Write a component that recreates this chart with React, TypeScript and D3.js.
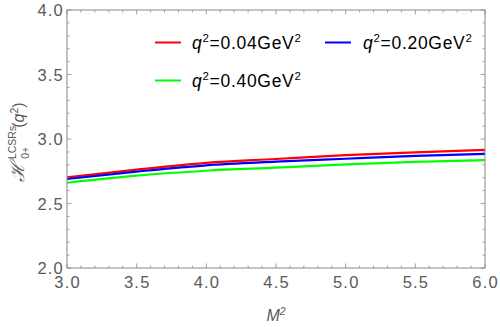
import React from "react";
import * as d3 from "d3";

const M2 = [3.0, 3.5, 4.0, 4.5, 5.0, 5.5, 6.0];
const red = [2.703, 2.763, 2.815, 2.845, 2.875, 2.897, 2.915];
const blue = [2.69, 2.747, 2.796, 2.824, 2.847, 2.869, 2.884];
const green = [2.661, 2.716, 2.754, 2.778, 2.803, 2.823, 2.837];
const seriesNames = ["0.04", "0.20", "0.40"];
const colors = ["#ff0000", "#0000ff", "#00ff00"];
const xTicks = [3.0, 3.5, 4.0, 4.5, 5.0, 5.5, 6.0];
const yTicks = [2.0, 2.5, 3.0, 3.5, 4.0];

export default function App() {
  const W = 500, H = 327;
  const L = 67, R = 485, T = 10, B = 268;
  const x = d3.scaleLinear().domain([3, 6]).range([L, R]);
  const y = d3.scaleLinear().domain([2, 4]).range([B, T]);
  const line = d3
    .line<number>()
    .x((_, i) => x(M2[i]))
    .y((d) => y(d))
    .curve(d3.curveMonotoneX);
  const series = [red, blue, green];
  const frameColor = "#8a8a8a";
  const textColor = "#5a5a5a";
  const font = "'Liberation Sans', Arial, sans-serif";
  const xMinor = d3.range(30, 61).map((v) => v / 10);
  const yMinor = d3.range(20, 41).map((v) => v / 10);
  const isMajor = (v: number) => Math.abs(v * 2 - Math.round(v * 2)) < 1e-6;

  const legend = [
    { i: 0, lx: 155, ly: 42.5, tx: 192 },
    { i: 1, lx: 325, ly: 42.5, tx: 363 },
    { i: 2, lx: 155, ly: 80.5, tx: 192 },
  ];

  return (
    <svg width={W} height={H} style={{ position: "absolute", left: 0, top: 0 }}>
      <rect width={W} height={H} fill="white" />
      {series.map((s, i) => (
        <path key={i} d={line(s) || ""} fill="none" stroke={colors[i]} strokeWidth={2.2} />
      ))}
      <rect x={L} y={T} width={R - L} height={B - T} fill="none" stroke={frameColor} strokeWidth={1} />
      {xMinor.map((v, k) => {
        const len = isMajor(v) ? 4.5 : 2.5;
        return (
          <g key={"x" + k} stroke={frameColor} strokeWidth={0.8}>
            <line x1={x(v)} x2={x(v)} y1={B} y2={B - len} />
            <line x1={x(v)} x2={x(v)} y1={T} y2={T + len} />
          </g>
        );
      })}
      {yMinor.map((v, k) => {
        const len = isMajor(v) ? 4.5 : 2.5;
        return (
          <g key={"y" + k} stroke={frameColor} strokeWidth={0.8}>
            <line x1={L} x2={L + len} y1={y(v)} y2={y(v)} />
            <line x1={R} x2={R - len} y1={y(v)} y2={y(v)} />
          </g>
        );
      })}
      {xTicks.map((v) => (
        <text key={"xt" + v} x={x(v) + 0.6} y={287.5} textAnchor="middle" fontFamily={font} fontSize={16.5} letterSpacing={1.2} fill={textColor}>
          {v.toFixed(1)}
        </text>
      ))}
      {yTicks.map((v) => (
        <text key={"yt" + v} x={64} y={y(v) + 6} textAnchor="end" fontFamily={font} fontSize={16.5} letterSpacing={1.2} fill={textColor}>
          {v.toFixed(1)}
        </text>
      ))}
      <text x={276} y={321} textAnchor="middle" fontFamily={font} fontSize={16} fill={textColor} fontStyle="italic">
        M<tspan dy={-6} fontSize={10.5}>2</tspan>
      </text>
      <g transform="translate(24,142) rotate(-90)">
        <text textAnchor="middle" fontFamily={font} fontSize={16} fill={textColor}>
          <tspan fontFamily="'DejaVu Serif', serif" fontStyle="italic" fontSize={19}>ℋ</tspan>
          <tspan fontSize={10.5} dx={2.5} dy={-8}>LCSRs</tspan>
          <tspan fontSize={10.5} dx={-33} dy={13}>0+</tspan>
          <tspan dx={19} dy={-5}>(</tspan>
          <tspan fontStyle="italic">q</tspan>
          <tspan fontSize={10.5} dy={-6}>2</tspan>
          <tspan dy={6}>)</tspan>
        </text>
      </g>
      {legend.map((g) => (
        <g key={"lg" + g.i}>
          <line x1={g.lx} x2={g.lx + 26} y1={g.ly} y2={g.ly} stroke={colors[g.i]} strokeWidth={2} />
          <text x={g.tx} y={g.ly + 6} fontFamily={font} fontSize={17.5} letterSpacing={0.7} fill="#000">
            <tspan fontStyle="italic">q</tspan>
            <tspan fontSize={11.5} dy={-7}>2</tspan>
            <tspan dy={7}>{"=" + seriesNames[g.i] + "GeV"}</tspan>
            <tspan fontSize={11.5} dy={-7}>2</tspan>
          </text>
        </g>
      ))}
    </svg>
  );
}
